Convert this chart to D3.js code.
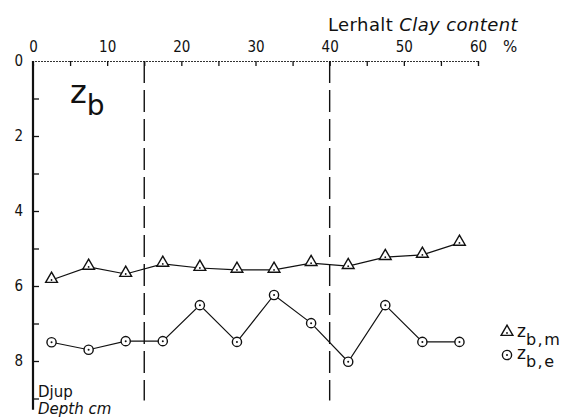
<!DOCTYPE html>
<html>
<head>
<meta charset="utf-8">
<title>Clay content vs depth</title>
<script src="https://d3js.org/d3.v7.min.js"></script>
<style>
    body { margin: 0; background: white; }
    svg text { font-family: "DejaVu Sans", sans-serif; fill: #111; }
    .axis text { font-size: 15px; font-family: "DejaVu Sans Condensed", "DejaVu Sans", sans-serif; }
    .axis line { stroke: #111; stroke-width: 1.3px; }
    .series { fill: none; stroke: #111; stroke-width: 1.2px; }
    .marker { fill: white; stroke: #111; stroke-width: 1.4px; }
</style>
</head>
<body>
<div id="chart"></div>
<script>
    // clay content classes (midpoints, %)
    const clay = [2.5, 7.5, 12.5, 17.5, 22.5, 27.5, 32.5, 37.5, 42.5, 47.5, 52.5, 57.5];
    // depth values, cm
    const zbm = [5.84, 5.49, 5.68, 5.41, 5.52, 5.57, 5.57, 5.39, 5.47, 5.23, 5.17, 4.85];
    const zbe = [7.5, 7.7, 7.47, 7.47, 6.51, 7.49, 6.24, 6.99, 8.02, 6.51, 7.49, 7.49];
    const xTicks = d3.range(0, 61, 5);
    const yTicks = d3.range(0, 10, 1);
    const limits = [15, 40];

    const width = 575, height = 420;
    const svg = d3.select("#chart").append("svg")
        .attr("width", width)
        .attr("height", height);

    const x = d3.scaleLinear().domain([0, 60]).range([33, 478]);
    const y = d3.scaleLinear().domain([0, 9]).range([61, 398.5]);

    // top axis (clay content)
    const xAxis = svg.append("g")
        .attr("class", "axis")
        .attr("transform", `translate(0,${y(0)})`)
        .call(d3.axisTop(x).tickValues(xTicks).tickSize(-5).tickPadding(9)
            .tickFormat(d => d % 10 === 0 ? d : ""));
    xAxis.select(".domain").attr("stroke", "#333").attr("stroke-width", 1.2)
        .attr("stroke-dasharray", "2,1");
    xAxis.selectAll(".tick").filter(d => d === 0).select("line").remove();

    // left axis (depth)
    const yAxis = svg.append("g")
        .attr("class", "axis")
        .attr("transform", `translate(${x(0)},0)`)
        .call(d3.axisLeft(y).tickValues(yTicks).tickSize(-6).tickPadding(10)
            .tickFormat(d => d % 2 === 0 ? d : ""));
    yAxis.select(".domain").remove();
    yAxis.selectAll(".tick").filter(d => d === 0).select("line").remove();
    svg.append("line")
        .attr("x1", x(0)).attr("x2", x(0))
        .attr("y1", y(0)).attr("y2", y(9.3))
        .attr("stroke", "#111").attr("stroke-width", 2.2);

    // dashed class limits
    svg.selectAll(".limit").data(limits).join("line")
        .attr("class", "limit")
        .attr("x1", d => x(d)).attr("x2", d => x(d))
        .attr("y1", y(0)).attr("y2", y(9.05))
        .attr("stroke", "#111").attr("stroke-width", 1.4)
        .attr("stroke-dasharray", "22,7");

    // axis titles
    const title = svg.append("text").attr("x", 518).attr("y", 31)
        .attr("text-anchor", "end").style("font-size", "18px")
        .style("letter-spacing", "0.4px");
    title.append("tspan").text("Lerhalt ");
    title.append("tspan").style("font-style", "italic").text("Clay content");
    svg.append("text").attr("x", 503).attr("y", 52).style("font-size", "15px").text("%");

    svg.append("text").attr("x", 38).attr("y", 397).style("font-size", "15px").text("Djup");
    svg.append("text").attr("x", 38).attr("y", 414).style("font-size", "15px")
        .style("font-style", "italic").text("Depth cm");

    // panel label
    const zb = svg.append("text").attr("x", 70).attr("y", 103).style("font-size", "32px");
    zb.append("tspan").text("z");
    zb.append("tspan").attr("dy", 12).style("font-size", "28px").text("b");

    // series
    const line = d3.line().x((d, i) => x(clay[i])).y(d => y(d));
    svg.append("path").datum(zbm).attr("class", "series").attr("d", line);
    svg.append("path").datum(zbe).attr("class", "series").attr("d", line);

    const tri = d3.symbol().type(d3.symbolTriangle).size(60);

    const drawTri = (sel) => {
        sel.append("path").attr("class", "marker").attr("d", tri).attr("transform", "translate(0,-1)");
        sel.append("circle").attr("r", 0.9).attr("fill", "#111");
    };
    const drawCirc = (sel) => {
        sel.append("circle").attr("class", "marker").attr("r", 4.6);
        sel.append("circle").attr("r", 1).attr("fill", "#111");
    };

    svg.selectAll(".tri").data(zbm).join("g")
        .attr("class", "tri")
        .attr("transform", (d, i) => `translate(${x(clay[i])},${y(d)})`)
        .call(drawTri);
    svg.selectAll(".circ").data(zbe).join("g")
        .attr("class", "circ")
        .attr("transform", (d, i) => `translate(${x(clay[i])},${y(d)})`)
        .call(drawCirc);

    // legend
    const legend = [
        { sub: "b,m", draw: drawTri, y: 333 },
        { sub: "b,e", draw: drawCirc, y: 355 }
    ];
    legend.forEach(l => {
        const g = svg.append("g").attr("transform", `translate(507,${l.y})`);
        l.draw(g);
        const t = g.append("text").attr("x", 10).attr("y", 4).style("font-size", "17px");
        t.append("tspan").text("z");
        t.append("tspan").attr("dy", 8).style("font-size", "16px")
            .style("letter-spacing", "1.5px").text(l.sub);
    });
</script>
</body>
</html>
